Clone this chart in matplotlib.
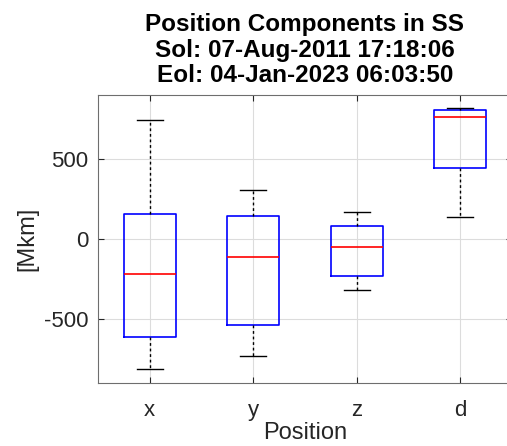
import matplotlib
matplotlib.use("Agg")
import matplotlib.pyplot as plt

plt.rcParams['font.family'] = ['Liberation Sans', 'DejaVu Sans']
plt.rcParams['axes.unicode_minus'] = False

# box statistics [Mkm]
labels = ["x", "y", "z", "d"]
whislo = [-815, -729, -317, 135]
q1 = [-615, -538, -231, 446]
med = [-219, -115, -50, 760]
q3 = [158, 146, 81, 804]
whishi = [741, 308, 169, 819]

title_lines = ["Position Components in SS",
               "Sol: 07-Aug-2011 17:18:06",
               "Eol: 04-Jan-2023 06:03:50"]

stats = []
for i in range(len(labels)):
    stats.append(dict(label=labels[i], whislo=whislo[i], q1=q1[i], med=med[i],
                      q3=q3[i], whishi=whishi[i], fliers=[]))

fig = plt.figure(figsize=(5.07, 4.46), dpi=100)
ax = fig.add_axes([0.193, 0.1413, 0.817, 0.646])

ax.bxp(stats, widths=0.5, showfliers=False,
       boxprops=dict(color="#0000ff", linewidth=1.2),
       medianprops=dict(color="#ff0000", linewidth=1.2),
       whiskerprops=dict(color="black", linestyle=(0, (2, 2)), linewidth=1.0),
       capprops=dict(color="black", linewidth=1.0))

ax.set_xlim(0.5, 4.5)
ax.set_ylim(-900, 900)
ax.set_yticks([-500, 0, 500])
ax.grid(True, color="#dcdcdc", linewidth=0.8)
ax.set_axisbelow(True)
for s in ax.spines.values():
    s.set_color("#6e6e6e")
ax.tick_params(direction="in", top=True, right=True, labelsize=16,
               colors="#262626", length=4, pad=7)
ax.tick_params(axis="x", pad=12)
ax.set_xlabel("Position", fontsize=17, color="#262626", labelpad=1)
ax.set_ylabel("[Mkm]", fontsize=17, color="#262626", labelpad=4)
ax.set_title("\n".join(title_lines), fontsize=17.5, fontweight="bold",
             linespacing=1.15, pad=9)

fig.savefig("out.png", dpi=100)
